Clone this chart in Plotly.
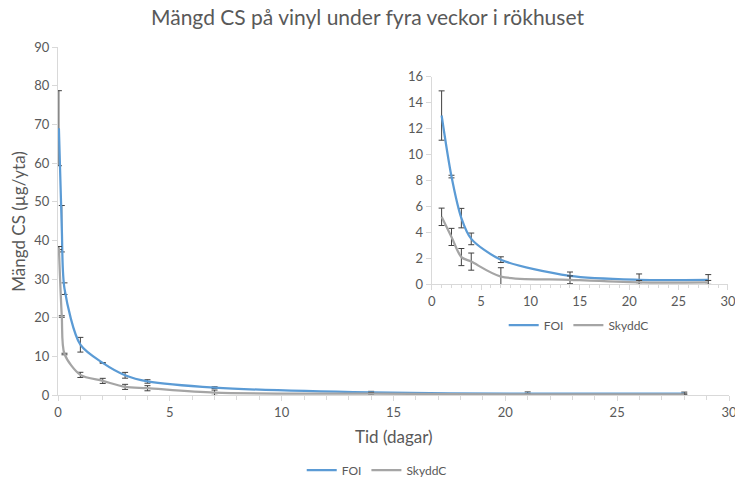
import plotly.graph_objects as go

# Data
tid = [0.04, 0.17, 0.29, 1, 2, 3, 4, 7, 14, 21, 28]
foi = [69.0, 43.0, 27.5, 13.0, 8.3, 5.1, 3.5, 1.9, 0.65, 0.35, 0.35]
foi_err = [9.7, 6.0, 1.5, 1.9, 0.1, 0.75, 0.45, 0.22, 0.3, 0.45, 0.4]
skydd = [38.0, 20.3, 10.6, 5.2, 3.65, 2.1, 1.75, 0.6, 0.35, 0.15, 0.15]
skydd_err = [0.4, 0.2, 0.2, 0.67, 0.66, 0.66, 0.66, 0.68, 0.3, 0.15, 0.15]

tid_inset = tid[3:]
foi_inset = foi[3:]
foi_err_inset = foi_err[3:]
skydd_inset = skydd[3:]
skydd_err_inset = skydd_err[3:]

BLUE = "#5B9BD5"
GRAY = "#A5A5A5"
ERR = "#404040"
TXT = "#595959"
AX = "#D9D9D9"
FONT = "Lato"

fig = go.Figure()

def add(x, y, e, name, color, xa, ya, legend, show=True):
    fig.add_trace(go.Scatter(
        x=x, y=y, name=name, mode="lines",
        line=dict(color=color, width=2.25, shape="spline", smoothing=0.8),
        error_y=dict(type="data", array=e, visible=True, color=ERR, thickness=1, width=3),
        xaxis=xa, yaxis=ya, legend=legend, showlegend=show,
    ))

add(tid, foi, foi_err, "FOI", BLUE, "x", "y", "legend")
add(tid, skydd, skydd_err, "SkyddC", GRAY, "x", "y", "legend")
add(tid_inset, foi_inset, foi_err_inset, "FOI", BLUE, "x2", "y2", "legend2")
add(tid_inset, skydd_inset, skydd_err_inset, "SkyddC", GRAY, "x2", "y2", "legend2")

axis_common = dict(showgrid=False, zeroline=False, showline=True, linecolor=AX, linewidth=1,
                   ticks="outside", tickcolor=AX, ticklen=5, automargin=False,
                   ticklabeloverflow="allow",
                   tickfont=dict(family=FONT, size=13, color=TXT))

fig.update_layout(
    width=735, height=483,
    paper_bgcolor="white", plot_bgcolor="rgba(0,0,0,0)",
    margin=dict(l=58, r=6, t=47, b=88, autoexpand=False),
    font=dict(family=FONT, color=TXT),
    title=dict(text="Mängd CS på vinyl under fyra veckor i rökhuset", x=0.5, xanchor="center",
               y=0.963, yanchor="middle", font=dict(family=FONT, size=21, color=TXT)),
    xaxis=dict(domain=[0, 1], range=[0, 30], dtick=5, anchor="y",
               minor=dict(dtick=1, ticks="outside", ticklen=4, tickcolor=AX), **axis_common),
    yaxis=dict(domain=[0, 1], range=[0, 90], dtick=10, anchor="x", **axis_common),
    xaxis2=dict(domain=[0.557, 0.9985], range=[0, 30], dtick=5, anchor="y2",
                minor=dict(dtick=1, ticks="outside", ticklen=3, tickcolor=AX), **axis_common),
    yaxis2=dict(domain=[0.318, 0.915], range=[0, 16], dtick=2, anchor="x2", **axis_common),
    legend=dict(orientation="h", x=0.475, xanchor="center", y=-0.216, yanchor="middle",
                font=dict(family=FONT, size=12, color=TXT), itemwidth=30, bgcolor="rgba(0,0,0,0)"),
    legend2=dict(orientation="h", x=0.776, xanchor="center", y=0.201, yanchor="middle",
                 font=dict(family=FONT, size=12, color=TXT), itemwidth=30, bgcolor="rgba(0,0,0,0)"),
    annotations=[
        dict(text="Tid (dagar)", xref="paper", yref="paper", x=0.5, y=-0.118, yanchor="middle",
             showarrow=False, font=dict(family=FONT, size=17, color=TXT)),
        dict(text="Mängd CS (µg/yta)", xref="paper", yref="paper", x=-0.06, xanchor="center",
             y=0.5, yanchor="middle", textangle=-90, showarrow=False,
             font=dict(family=FONT, size=17, color=TXT)),
    ],
)

fig.write_html("out.html", config={"displayModeBar": False},
               post_script="document.body.style.margin='0';")
